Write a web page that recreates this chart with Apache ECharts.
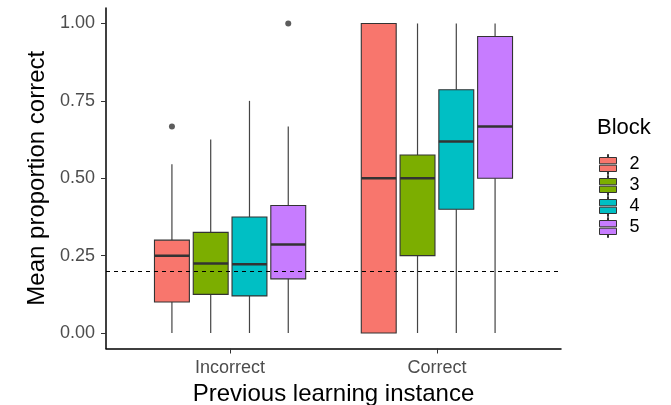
<!DOCTYPE html>
<html><head><meta charset="utf-8">
<script src="https://cdn.jsdelivr.net/npm/echarts@6/dist/echarts.min.js"></script>
<style>html,body{margin:0;padding:0;background:#fff}#c{width:671px;height:405px}</style>
</head><body><div id="c"></div>
<script>
const categories = ['Incorrect', 'Correct'];
const blocks = ['2', '3', '4', '5'];
const blockColors = ['#F8766D', '#7CAE00', '#00BFC4', '#C77CFF'];
// [min, q1, median, q3, max] per category (Incorrect, Correct)
const block2 = [[0, 0.10, 0.25, 0.30, 0.545], [0, 0, 0.5, 1, 1]];
const block3 = [[0, 0.125, 0.225, 0.325, 0.625], [0, 0.25, 0.5, 0.575, 1]];
const block4 = [[0, 0.12, 0.222, 0.375, 0.75], [0, 0.4, 0.619, 0.786, 1]];
const block5 = [[0, 0.175, 0.286, 0.412, 0.667], [0, 0.5, 0.667, 0.958, 1]];
// outliers: [category index, block index, value]
const outliers = [[0, 0, 0.667], [0, 3, 1.0]];
const chanceLevel = 0.2;
const yTicks = [0, 0.25, 0.5, 0.75, 1];

const blockData = [block2, block3, block4, block5];
const dodge = 0.75 / 4;
const boxW = dodge * 0.9;
const FONT = '"Liberation Sans", Arial, sans-serif';

function renderBox(params, api) {
  const cat = api.value(0);
  const s = params.seriesIndex;
  const x = cat + 1 + (s - 1.5) * dodge;
  const half = api.size([boxW, 0])[0] / 2;
  const p = v => api.coord([x, v]);
  const bot = p(api.value(1)), q1 = p(api.value(2)), med = p(api.value(3)), q3 = p(api.value(4)), top = p(api.value(5));
  const color = api.visual('color');
  return {
    type: 'group',
    children: [
      { type: 'line', shape: { x1: q3[0], y1: q3[1], x2: top[0], y2: top[1] }, style: { stroke: '#444', lineWidth: 1.2 } },
      { type: 'line', shape: { x1: q1[0], y1: q1[1], x2: bot[0], y2: bot[1] }, style: { stroke: '#444', lineWidth: 1.2 } },
      { type: 'rect', shape: { x: q3[0] - half, y: q3[1], width: half * 2, height: q1[1] - q3[1] }, style: { fill: color, stroke: '#333', lineWidth: 1.1 } },
      { type: 'line', shape: { x1: med[0] - half, y1: med[1], x2: med[0] + half, y2: med[1] }, style: { stroke: '#333', lineWidth: 2.5 } }
    ]
  };
}

const legendIcon = 'path://M8,0L9,0L9,3L8,3Z M0,3L17,3L17,9.3L0,9.3Z M0,10.7L17,10.7L17,17L0,17Z M8,17L9,17L9,20L8,20Z';

const series = blocks.map((b, i) => ({
  name: b,
  type: 'custom',
  renderItem: renderBox,
  itemStyle: { color: blockColors[i] },
  encode: { x: 0, y: [1, 2, 3, 4, 5] },
  data: blockData[i].map((d, c) => [c].concat(d)),
  z: 2
}));

series.push({
  name: 'outliers',
  type: 'scatter',
  symbolSize: 6,
  itemStyle: { color: '#333' },
  data: outliers.map(o => [o[0] + 1 + (o[1] - 1.5) * dodge, o[2]]),
  z: 3,
  markLine: {
    silent: true,
    symbol: ['none', 'none'],
    label: { show: false },
    lineStyle: { color: '#000', type: [4, 4], width: 1 },
    data: [{ yAxis: chanceLevel }],
    z: 10
  }
});

const chart = echarts.init(document.getElementById('c'), null, { renderer: 'canvas' });
chart.setOption({
  animation: false,
  backgroundColor: '#fff',
  title: {
    text: 'Block', left: 597, top: 117, padding: 0,
    textStyle: { fontFamily: FONT, fontSize: 22, fontWeight: 'normal', color: '#000' }
  },
  legend: {
    data: blocks.map(b => ({ name: b, icon: legendIcon })),
    orient: 'vertical', left: 599, top: 154, padding: 0,
    itemWidth: 17, itemHeight: 20, itemGap: 0,
    itemStyle: { borderColor: '#333', borderWidth: 1 },
    textStyle: { fontFamily: FONT, fontSize: 18, color: '#000', padding: [0, 0, 0, 8] },
    selectedMode: false
  },
  grid: { left: 106, right: 110, top: 8, bottom: 56.5, containLabel: false, outerBoundsMode: 'none' },
  xAxis: {
    type: 'value', min: 0.4, max: 2.6,
    name: 'Previous learning instance', nameLocation: 'middle', nameGap: 31,
    nameTextStyle: { fontFamily: FONT, fontSize: 24, color: '#000' },
    axisLine: { show: true, onZero: false, lineStyle: { color: '#000', width: 1.5 } },
    axisTick: { show: true, customValues: [1, 2], length: 5, lineStyle: { color: '#333', width: 1 } },
    axisLabel: { customValues: [1, 2], formatter: v => categories[Math.round(v) - 1], fontFamily: FONT, fontSize: 18, color: '#4D4D4D', margin: 11 },
    splitLine: { show: false }
  },
  yAxis: {
    type: 'value', min: -0.05, max: 1.05,
    name: 'Mean proportion correct', nameLocation: 'middle', nameGap: 56, nameRotate: 90,
    nameTextStyle: { fontFamily: FONT, fontSize: 24, color: '#000' },
    axisLine: { show: true, onZero: false, lineStyle: { color: '#000', width: 1.5 } },
    axisTick: { show: true, customValues: yTicks, length: 5, lineStyle: { color: '#333', width: 1 } },
    axisLabel: { customValues: yTicks, formatter: v => v.toFixed(2), fontFamily: FONT, fontSize: 18, color: '#4D4D4D', margin: 11 },
    splitLine: { show: false }
  },
  series: series
});
</script></body></html>
